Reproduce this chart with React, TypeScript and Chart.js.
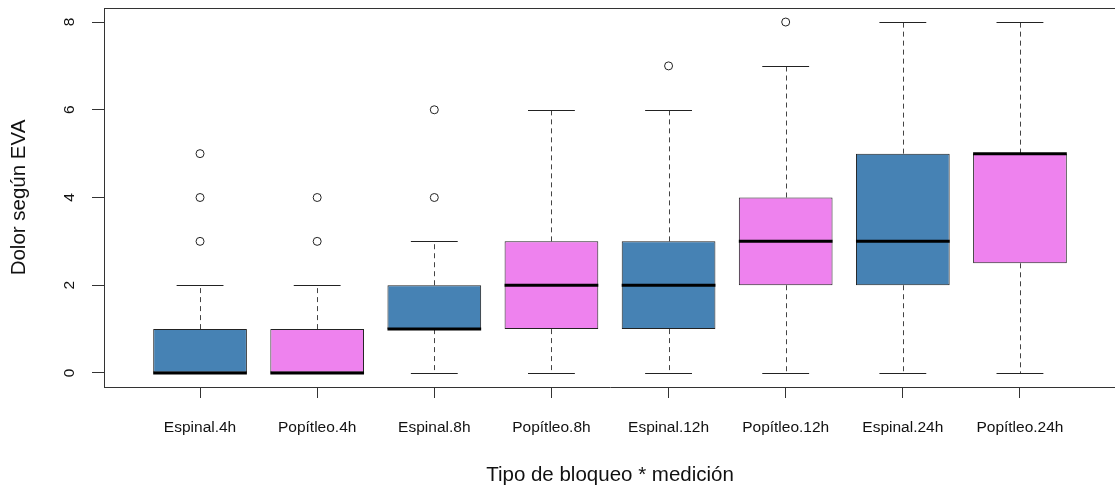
import React, { useEffect, useRef } from "react";
import { Chart, registerables } from "chart.js";

Chart.register(...registerables);

const categories = [
  "Espinal.4h",
  "Popítleo.4h",
  "Espinal.8h",
  "Popítleo.8h",
  "Espinal.12h",
  "Popítleo.12h",
  "Espinal.24h",
  "Popítleo.24h",
];
const whiskerLow = [0, 0, 0, 0, 0, 0, 0, 0];
const q1 = [0, 0, 1, 1, 1, 2, 2, 2.5];
const medians = [0, 0, 1, 2, 2, 3, 3, 5];
const q3 = [1, 1, 2, 3, 3, 4, 5, 5];
const whiskerHigh = [2, 2, 3, 6, 6, 7, 8, 8];
const outliers: number[][] = [[3, 4, 5], [3, 4], [4, 6], [], [7], [8], [], []];
const boxColors = ["#4682B4", "#EE82EE", "#4682B4", "#EE82EE", "#4682B4", "#EE82EE", "#4682B4", "#EE82EE"];
const yTicks = [0, 2, 4, 6, 8];
const xTitle = "Tipo de bloqueo * medición";
const yTitle = "Dolor según EVA";

const FONT = "'Liberation Sans', Arial, Helvetica, sans-serif";
const BOX_HALF = 0.4;
const STAPLE_HALF = 0.2;

const boxPartsPlugin = {
  id: "boxParts",
  beforeDatasetsDraw(chart: any) {
    const { ctx, scales } = chart;
    const xs = scales.x;
    const ys = scales.y;
    ctx.save();
    ctx.strokeStyle = "#444";
    ctx.lineWidth = 1;
    categories.forEach((_, i) => {
      const x = Math.round(xs.getPixelForValue(i + 1)) + 0.5;
      const sl = xs.getPixelForValue(i + 1 - STAPLE_HALF);
      const sr = xs.getPixelForValue(i + 1 + STAPLE_HALF);
      const yHi = Math.round(ys.getPixelForValue(whiskerHigh[i])) + 0.5;
      const yLo = Math.round(ys.getPixelForValue(whiskerLow[i])) + 0.5;
      const yQ3 = ys.getPixelForValue(q3[i]);
      const yQ1 = ys.getPixelForValue(q1[i]);
      ctx.setLineDash([5, 4]);
      ctx.beginPath();
      ctx.moveTo(x, yQ3);
      ctx.lineTo(x, yHi);
      ctx.moveTo(x, yQ1);
      ctx.lineTo(x, yLo);
      ctx.stroke();
      ctx.setLineDash([]);
      ctx.strokeStyle = "#222";
      ctx.beginPath();
      ctx.moveTo(sl, yHi);
      ctx.lineTo(sr, yHi);
      ctx.moveTo(sl, yLo);
      ctx.lineTo(sr, yLo);
      ctx.stroke();
      ctx.strokeStyle = "#444";
    });
    ctx.restore();
  },
  afterDatasetsDraw(chart: any) {
    const { ctx, scales, chartArea } = chart;
    const xs = scales.x;
    const ys = scales.y;
    ctx.save();
    // medians
    ctx.strokeStyle = "#000";
    ctx.lineWidth = 3;
    ctx.lineCap = "butt";
    categories.forEach((_, i) => {
      const l = xs.getPixelForValue(i + 1 - BOX_HALF);
      const r = xs.getPixelForValue(i + 1 + BOX_HALF);
      const y = ys.getPixelForValue(medians[i]);
      ctx.beginPath();
      ctx.moveTo(l, y);
      ctx.lineTo(r, y);
      ctx.stroke();
    });
    // top frame line
    ctx.strokeStyle = "#333";
    ctx.lineWidth = 1;
    ctx.beginPath();
    ctx.moveTo(chartArea.left, Math.round(chartArea.top) + 0.5);
    ctx.lineTo(chartArea.right, Math.round(chartArea.top) + 0.5);
    ctx.stroke();
    // rotated y tick labels
    ctx.fillStyle = "#111";
    ctx.font = `15.5px ${FONT}`;
    ctx.textAlign = "center";
    ctx.textBaseline = "middle";
    yTicks.forEach((v) => {
      const y = ys.getPixelForValue(v);
      ctx.save();
      ctx.translate(70, y);
      ctx.rotate(-Math.PI / 2);
      ctx.fillText(String(v), 0, 0);
      ctx.restore();
    });
    ctx.restore();
  },
};

export default function App() {
  const canvasRef = useRef<HTMLCanvasElement | null>(null);

  useEffect(() => {
    if (!canvasRef.current) return;
    const boxData = categories.map((_, i) => ({ x: i + 1, y: [q1[i], q3[i]] }));
    const outlierData: { x: number; y: number }[] = [];
    outliers.forEach((arr, i) => arr.forEach((v) => outlierData.push({ x: i + 1, y: v })));

    const chart = new Chart(canvasRef.current, {
      type: "bar",
      data: {
        datasets: [
          {
            type: "bar",
            data: boxData as any,
            backgroundColor: boxColors,
            borderColor: "#222",
            borderWidth: 1,
            borderSkipped: false,
            categoryPercentage: 0.8,
            barPercentage: 1,
            grouped: false,
          } as any,
          {
            type: "scatter",
            data: outlierData,
            pointRadius: 4,
            pointBorderWidth: 1,
            pointBorderColor: "#222",
            pointBackgroundColor: "rgba(0,0,0,0)",
            showLine: false,
          } as any,
        ],
      },
      options: {
        animation: false,
        responsive: false,
        maintainAspectRatio: false,
        font: { family: FONT },
        layout: { padding: { top: 8, left: 0, right: 0, bottom: 0 } },
        plugins: { legend: { display: false }, tooltip: { enabled: false } },
        scales: {
          x: {
            type: "linear",
            position: "bottom",
            min: 0.18,
            max: 8.82,
            offset: false,
            afterBuildTicks: (s: any) => {
              s.ticks = categories.map((_, i) => ({ value: i + 1 }));
            },
            afterFit: (s: any) => {
              s.height = 102;
            },
            ticks: {
              callback: (v: any) => categories[Math.round(v) - 1] ?? "",
              font: { size: 15.5, family: FONT },
              color: "#111",
              padding: 20,
              maxRotation: 0,
              minRotation: 0,
              autoSkip: false,
            },
            grid: { drawOnChartArea: false, drawTicks: true, tickLength: 11, offset: false, color: "#333" },
            border: { display: true, color: "#333", width: 1 },
            title: {
              display: true,
              text: xTitle,
              font: { size: 20.5, family: FONT },
              color: "#111",
              padding: { top: 0, bottom: 1 },
            },
          } as any,
          y: {
            type: "linear",
            position: "left",
            min: -0.32,
            max: 8.32,
            afterBuildTicks: (s: any) => {
              s.ticks = yTicks.map((v) => ({ value: v }));
            },
            afterFit: (s: any) => {
              s.width = 104;
            },
            ticks: { display: false },
            grid: { drawOnChartArea: false, drawTicks: true, tickLength: 12, color: "#333" },
            border: { display: true, color: "#333", width: 1 },
            title: {
              display: true,
              text: yTitle,
              font: { size: 20.5, family: FONT },
              color: "#111",
              padding: { top: 7, bottom: 0 },
            },
          } as any,
        },
      },
      plugins: [boxPartsPlugin],
    });
    return () => chart.destroy();
  }, []);

  return (
    <div
      style={{
        position: "fixed",
        left: 0,
        top: 0,
        width: 1115,
        height: 489,
        overflow: "hidden",
        background: "#fff",
      }}
    >
      <canvas ref={canvasRef} width={1121} height={489} style={{ display: "block" }} />
    </div>
  );
}
